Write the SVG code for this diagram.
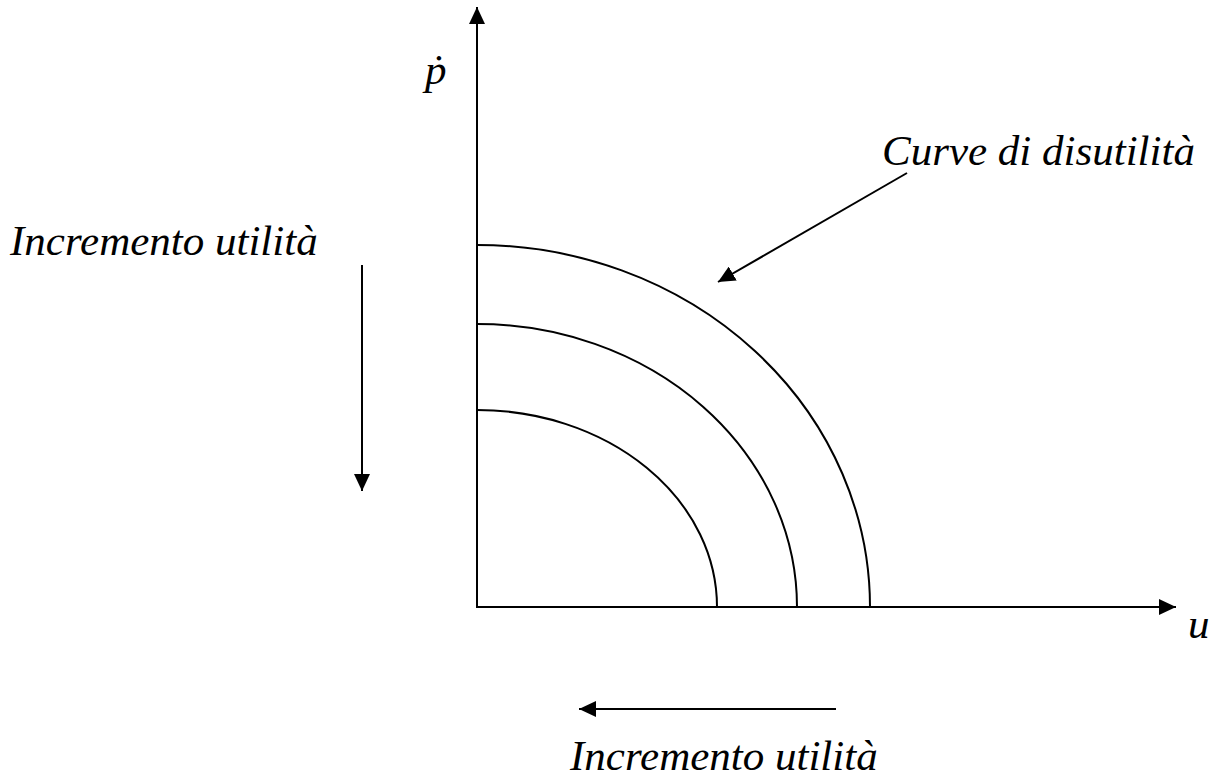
<svg xmlns="http://www.w3.org/2000/svg" width="1211" height="780" viewBox="0 0 1211 780">
<style>
.ln{stroke:#000;stroke-width:2;fill:none}
.t{font-family:"Liberation Serif","Times New Roman",serif;font-style:italic;font-size:43px;fill:#000}
</style>
<defs>
<marker id="ah" markerUnits="userSpaceOnUse" markerWidth="18" markerHeight="16" refX="17" refY="8" orient="auto">
<path d="M0,0 L17,8 L0,16 Z" fill="#000"/>
</marker>
</defs>
<rect width="1211" height="780" fill="#fff"/>
<g id="axes">
<line class="ln" x1="477" y1="608" x2="477" y2="7" marker-end="url(#ah)"/>
<line class="ln" x1="476" y1="607" x2="1176" y2="607" marker-end="url(#ah)"/>
</g>
<g id="curves">
<path class="ln" d="M477,245 A393,362 0 0 1 870,607"/>
<path class="ln" d="M477,324 A320,283 0 0 1 797,607"/>
<path class="ln" d="M477,410 A240,197 0 0 1 717,607"/>
</g>
<g id="connectors">
<line class="ln" x1="907" y1="173" x2="718" y2="282" marker-end="url(#ah)"/>
<line class="ln" x1="362" y1="265" x2="362" y2="491" marker-end="url(#ah)"/>
<line class="ln" x1="836" y1="709" x2="579" y2="709" marker-end="url(#ah)"/>
</g>
<g id="labels">
<text class="t" x="425" y="84">ṗ</text>
<text class="t" x="1188" y="638">u</text>
<text class="t" x="882" y="165">Curve di disutilità</text>
<text class="t" x="10" y="255">Incremento utilità</text>
<text class="t" x="570" y="770">Incremento utilità</text>
</g>
</svg>
